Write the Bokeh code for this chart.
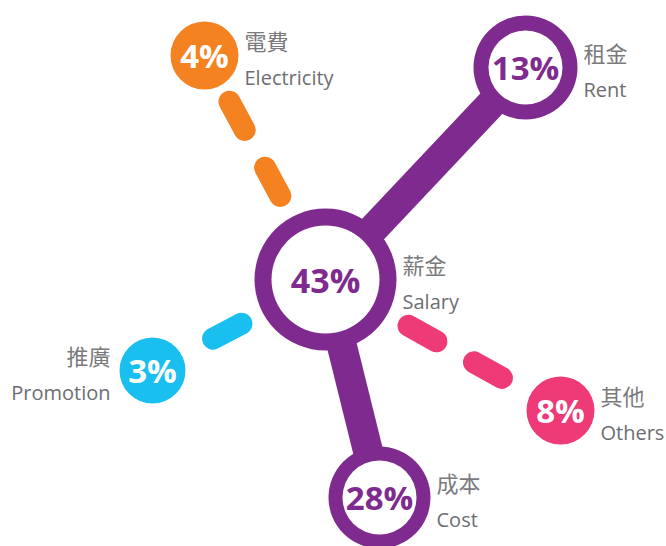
import numpy as np
from bokeh.plotting import figure
from bokeh.models import Range1d, ColumnDataSource
from bokeh.core.properties import value
from bokeh.embed import file_html
from bokeh.resources import INLINE

# ---- data ----
categories_zh = ["薪金", "租金", "成本", "電費", "推廣", "其他"]
categories_en = ["Salary", "Rent", "Cost", "Electricity", "Promotion", "Others"]
shares = [43, 13, 28, 4, 3, 8]

# ---- layout (screen-like units, y grows downward) ----
node_x = [325, 525, 379, 204, 152, 560]
node_y = [279, 67, 497, 55, 370, 410]
node_r = [71, 52, 51, 34, 33, 34]
ring_w = [17, 15, 14, 0, 0, 0]
PURPLE = "#7F2A8E"
node_color = [PURPLE, PURPLE, PURPLE, "#F58220", "#18BFEF", "#EE3A77"]
label_left = [False, False, False, False, True, False]
pct_size = ["34px", "33px", "33px", "33px", "33px", "33px"]
GREY_EN = "#6D6E71"
GREY_ZH = "#7A7A7D"

W, H = 666, 546
p = figure(width=W, height=H, x_range=Range1d(0, W), y_range=Range1d(H, 0),
           output_backend="svg", toolbar_location=None, min_border=0,
           background_fill_color="white", border_fill_color="white")
p.axis.visible = False
p.grid.visible = False
p.outline_line_color = None

cx, cy = node_x[0], node_y[0]

# solid purple links (ring nodes)
sx0, sy0, sx1, sy1 = [], [], [], []
for i in range(1, len(shares)):
    if ring_w[i] > 0:
        sx0.append(cx); sy0.append(cy); sx1.append(node_x[i]); sy1.append(node_y[i])
p.segment(sx0, sy0, sx1, sy1, line_color=PURPLE, line_width=30, line_cap="butt")

# dashed links (filled nodes)
dash_start, dash_len, dash_period, cap = 95.0, 32.0, 75.0, 11.0
dx0, dy0, dx1, dy1, dcol = [], [], [], [], []
for i in range(1, len(shares)):
    if ring_w[i] == 0:
        vx, vy = node_x[i] - cx, node_y[i] - cy
        L = np.hypot(vx, vy)
        ux, uy = vx / L, vy / L
        limit = L - node_r[i] - cap
        s = dash_start
        while s + dash_len <= limit:
            e = s + dash_len
            dx0.append(cx + ux * s); dy0.append(cy + uy * s)
            dx1.append(cx + ux * e); dy1.append(cy + uy * e)
            dcol.append(node_color[i])
            s += dash_period
p.segment(x0=dx0, y0=dy0, x1=dx1, y1=dy1, line_color=dcol, line_width=22, line_cap="round")

# nodes
p.circle(x=node_x, y=node_y, radius=node_r, fill_color=node_color, line_color=None)
ring_idx = [i for i in range(len(shares)) if ring_w[i] > 0]
p.circle(x=[node_x[i] for i in ring_idx], y=[node_y[i] for i in ring_idx],
         radius=[node_r[i] - ring_w[i] for i in ring_idx], fill_color="white", line_color=None)

# percentage text
pct_src = ColumnDataSource(dict(
    x=node_x, y=node_y, t=[f"{v}%" for v in shares],
    c=[PURPLE if ring_w[i] > 0 else "white" for i in range(len(shares))],
    s=pct_size))
p.text(x="x", y="y", text="t", source=pct_src, text_color="c", text_font_size="s",
       text_font=value("Open Sans"), text_font_style="bold",
       text_align="center", text_baseline="middle")

# labels
lx, ly_zh, ly_en, al = [], [], [], []
for i in range(len(shares)):
    if label_left[i]:
        lx.append(node_x[i] - node_r[i] - 9); al.append("right")
    else:
        lx.append(node_x[i] + node_r[i] + 6); al.append("left")
    ly_zh.append(node_y[i] - 16)
    ly_en.append(node_y[i] + 22)

zh_src = ColumnDataSource(dict(x=lx, y=ly_zh, t=categories_zh, a=al))
en_src = ColumnDataSource(dict(x=lx, y=ly_en, t=categories_en, a=al))
p.text(x="x", y="y", text="t", source=zh_src, text_align="a", text_baseline="middle",
       text_font=value("Noto Sans CJK TC"), text_font_size="22px", text_color=GREY_ZH)
p.text(x="x", y="y", text="t", source=en_src, text_align="a", text_baseline="alphabetic",
       text_font=value("Open Sans"), text_font_size="20px", text_color=GREY_EN)

open("out.html", "w").write(file_html(p, INLINE))
